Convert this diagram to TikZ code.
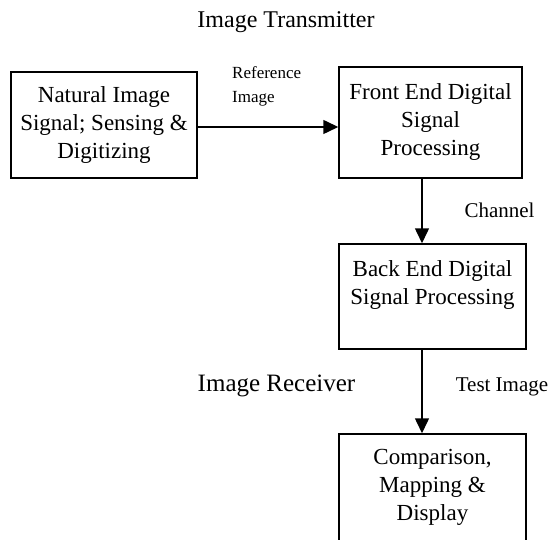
\documentclass[tikz,border=0pt]{standalone}
\usepackage{fontspec}
\setmainfont{Liberation Serif}
\usetikzlibrary{arrows.meta}
\begin{document}
\begin{tikzpicture}[x=1pt,y=-1pt,
  box/.style={draw, line width=1.5pt, inner sep=0pt, align=center,
    font=\fontsize{23}{28}\selectfont},
  arr/.style={-{Triangle[length=15pt,width=14pt]}, line width=1.5pt},
  lbl/.style={inner sep=0pt}]
\useasboundingbox (0,0) rectangle (554,540);
\clip (0,0) rectangle (554,540);
\fill[white] (0,0) rectangle (554,540);

\node[box, minimum width=186pt, minimum height=106pt] (A) at (104,125)
  {Natural Image\\Signal; Sensing \&\\Digitizing};
\node[box, minimum width=183pt, minimum height=111pt] (B) at (430.5,122.5)
  {Front End Digital\\Signal\\Processing};
\node[box, minimum width=187pt, minimum height=105pt] (C) at (432.5,296.5)
  {Back End Digital\\Signal Processing\\\mbox{}};
\node[box, minimum width=187pt, minimum height=107pt] (D) at (432.5,487.5)
  {Comparison,\\Mapping \&\\Display};

\node[lbl, font=\fontsize{24}{28}\selectfont] (title) at (286,22) {Image Transmitter};
\node[lbl, font=\fontsize{17}{24}\selectfont, align=left, anchor=west] (ref) at (232,86) {Reference\\Image};
\node[lbl, font=\fontsize{21}{24}\selectfont] (chan) at (499.5,210) {Channel};
\node[lbl, font=\fontsize{25}{28}\selectfont] (recv) at (276.5,386) {Image Receiver};
\node[lbl, font=\fontsize{21}{24}\selectfont] (test) at (502,387) {Test Image};

\draw[arr] ([yshift=-2pt]A.east) -- ([yshift=-2pt]A.east -| B.west);
\draw[arr] ([xshift=-8.5pt]B.south) -- ([xshift=-8.5pt]B.south |- C.north);
\draw[arr] ([xshift=-10.5pt]C.south) -- ([xshift=-10.5pt]C.south |- D.north);
\end{tikzpicture}
\end{document}
